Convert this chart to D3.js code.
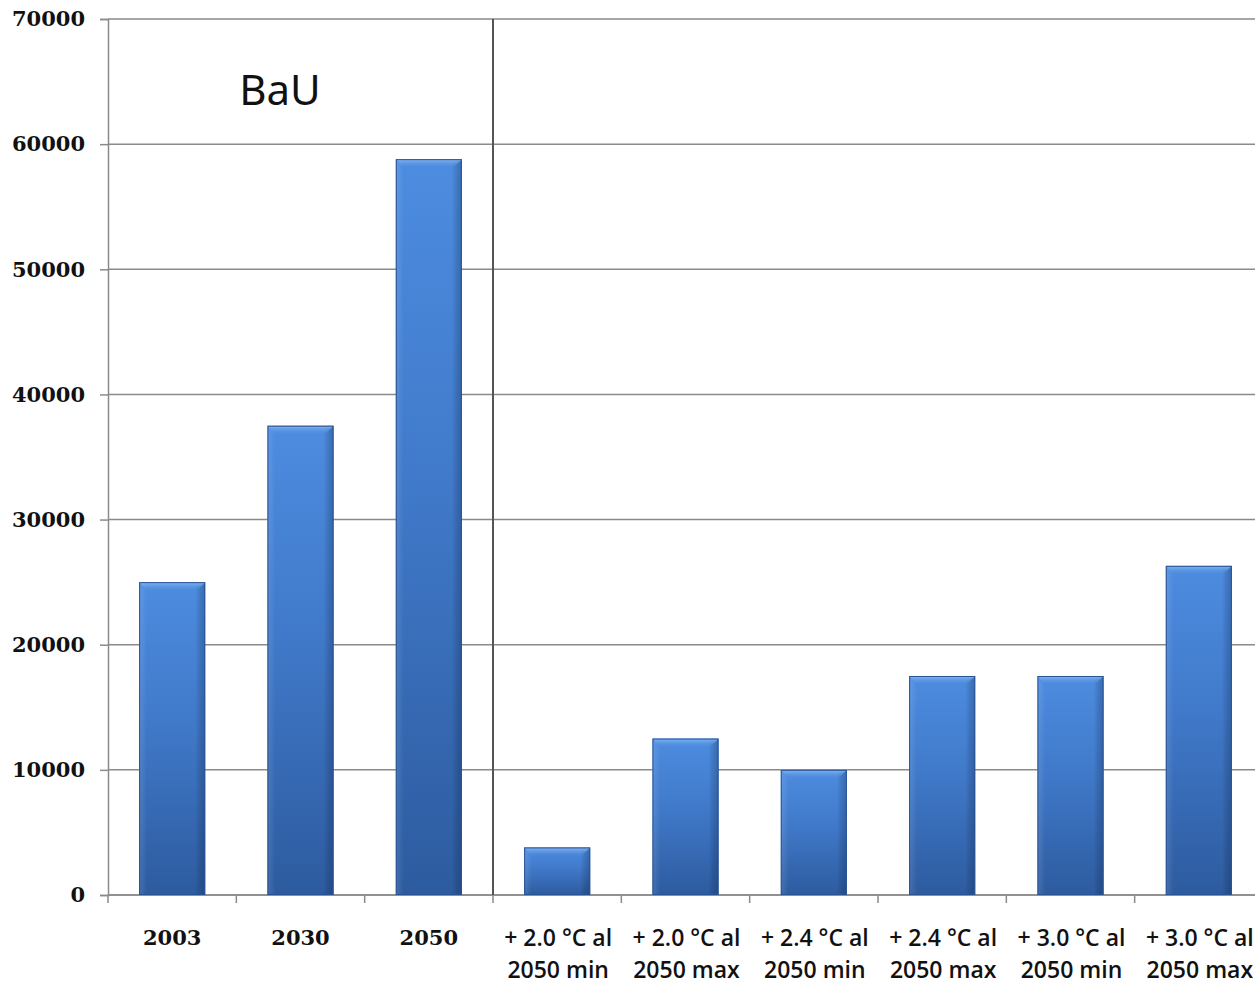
<!DOCTYPE html>
<html>
<head>
<meta charset="utf-8">
<script src="https://cdn.jsdelivr.net/npm/d3@7"></script>
<style>
  html, body { margin: 0; padding: 0; background: #fff; }
  svg { display: block; }
</style>
</head>
<body>
<svg id="chart" width="1255" height="985"></svg>
<script>
// Emission scenarios: BaU years and temperature targets for 2050
const categories = ["2003", "2030", "2050",
  "+ 2.0 °C al|2050 min", "+ 2.0 °C al|2050 max",
  "+ 2.4 °C al|2050 min", "+ 2.4 °C al|2050 max",
  "+ 3.0 °C al|2050 min", "+ 3.0 °C al|2050 max"];
const values = [25000, 37500, 58800, 3800, 12500, 10000, 17500, 17500, 26300];
const yTicks = [0, 10000, 20000, 30000, 40000, 50000, 60000, 70000];
const groupLabel = "BaU";
const bauCount = 3;

const svg = d3.select("#chart");
const plotL = 108, plotR = 1263, plotT = 19, plotB = 895;

const x = d3.scaleBand().domain(categories).range([plotL, plotR])
  .paddingInner(0.485).paddingOuter(0.2425);
const y = d3.scaleLinear().domain([0, 70000]).range([plotB, plotT]);

// gradients for the bevelled bars
const defs = svg.append("defs");
const gV = defs.append("linearGradient").attr("id", "barV").attr("x1", 0).attr("y1", 0).attr("x2", 0).attr("y2", 1);
gV.append("stop").attr("offset", "0%").attr("stop-color", "#4d8ce0");
gV.append("stop").attr("offset", "45%").attr("stop-color", "#4079c9");
gV.append("stop").attr("offset", "100%").attr("stop-color", "#2d5b9f");
const gH = defs.append("linearGradient").attr("id", "barH").attr("x1", 0).attr("y1", 0).attr("x2", 1).attr("y2", 0);
gH.append("stop").attr("offset", "0%").attr("stop-color", "#ffffff").attr("stop-opacity", 0.12);
gH.append("stop").attr("offset", "12%").attr("stop-color", "#ffffff").attr("stop-opacity", 0.0);
gH.append("stop").attr("offset", "85%").attr("stop-color", "#000000").attr("stop-opacity", 0.0);
gH.append("stop").attr("offset", "100%").attr("stop-color", "#0a2550").attr("stop-opacity", 0.30);
const gTop = defs.append("linearGradient").attr("id", "barTop").attr("x1", 0).attr("y1", 0).attr("x2", 0).attr("y2", 1);
gTop.append("stop").attr("offset", "0%").attr("stop-color", "#86b8f2");
gTop.append("stop").attr("offset", "100%").attr("stop-color", "#4d8ce0").attr("stop-opacity", 0);

// horizontal gridlines
svg.append("g").selectAll("line").data(yTicks).join("line")
  .attr("x1", plotL).attr("x2", 1255)
  .attr("y1", d => y(d)).attr("y2", d => y(d))
  .attr("stroke", "#8a8a8a").attr("stroke-width", 1.5);

// y axis
const yAxis = svg.append("g").attr("transform", `translate(${plotL},0)`)
  .call(d3.axisLeft(y).tickValues(yTicks).tickSize(8).tickPadding(15).tickFormat(d3.format("d")));
yAxis.select(".domain").attr("stroke", "#8a8a8a").attr("stroke-width", 1.5);
yAxis.selectAll(".tick line").attr("stroke", "#8a8a8a").attr("stroke-width", 1.5);
yAxis.selectAll(".tick text")
  .attr("font-family", "'DejaVu Serif', serif").attr("font-weight", "bold")
  .attr("font-size", 21).attr("fill", "#111");

// x axis baseline with ticks at the band boundaries
const boundaries = d3.range(categories.length + 1).map(i => plotL + i * x.step());
svg.append("line").attr("x1", plotL).attr("x2", 1255).attr("y1", plotB).attr("y2", plotB)
  .attr("stroke", "#8a8a8a").attr("stroke-width", 1.5);
svg.append("g").selectAll("line").data(boundaries).join("line")
  .attr("x1", d => d).attr("x2", d => d).attr("y1", plotB).attr("y2", plotB + 8)
  .attr("stroke", "#8a8a8a").attr("stroke-width", 1.5);

// bars
const bars = svg.append("g").selectAll("g").data(categories).join("g");
bars.append("rect")
  .attr("x", d => x(d)).attr("width", x.bandwidth())
  .attr("y", (d, i) => y(values[i])).attr("height", (d, i) => y(0) - y(values[i]))
  .attr("fill", "url(#barV)");
bars.append("rect")
  .attr("x", d => x(d)).attr("width", x.bandwidth())
  .attr("y", (d, i) => y(values[i])).attr("height", (d, i) => y(0) - y(values[i]))
  .attr("fill", "url(#barH)");
// bevelled top edge
bars.append("path")
  .attr("d", (d, i) => {
    const x0 = x(d), x1 = x0 + x.bandwidth(), yt = y(values[i]), b = 9;
    return `M${x0},${yt}L${x1},${yt}L${x1 - b},${yt + b}L${x0 + b},${yt + b}Z`;
  })
  .attr("fill", "url(#barTop)");
bars.append("rect")
  .attr("x", d => x(d) + 0.5).attr("width", x.bandwidth() - 1)
  .attr("y", (d, i) => y(values[i]) + 0.5).attr("height", (d, i) => y(0) - y(values[i]) - 1)
  .attr("fill", "none").attr("stroke", "#2a5394").attr("stroke-width", 1);

// divider between BaU and the scenario group
const divX = plotL + bauCount * x.step();
svg.append("line").attr("x1", divX).attr("x2", divX).attr("y1", plotT).attr("y2", plotB)
  .attr("stroke", "#555").attr("stroke-width", 2);

// category labels
const lab = svg.append("g");
categories.forEach((c, i) => {
  const cx = x(c) + x.bandwidth() / 2;
  const parts = c.split("|");
  if (parts.length === 1) {
    lab.append("text").attr("x", cx).attr("y", 945).attr("text-anchor", "middle")
      .attr("font-family", "'DejaVu Serif', serif").attr("font-weight", "bold")
      .attr("font-size", 21).attr("fill", "#111").text(c);
  } else {
    parts.forEach((p, j) => {
      lab.append("text")
        .attr("x", cx + 1).attr("y", 946 + j * 32)
        .attr("text-anchor", "middle")
        .attr("font-family", "'Open Sans', sans-serif").attr("font-weight", 600)
        .attr("font-size", 23).attr("fill", "#111").text(p);
    });
  }
});

// group title
svg.append("text").attr("x", 280).attr("y", 105).attr("text-anchor", "middle")
  .attr("font-family", "'Noto Sans', sans-serif").attr("font-size", 42).attr("fill", "#111")
  .text(groupLabel);
</script>
</body>
</html>
